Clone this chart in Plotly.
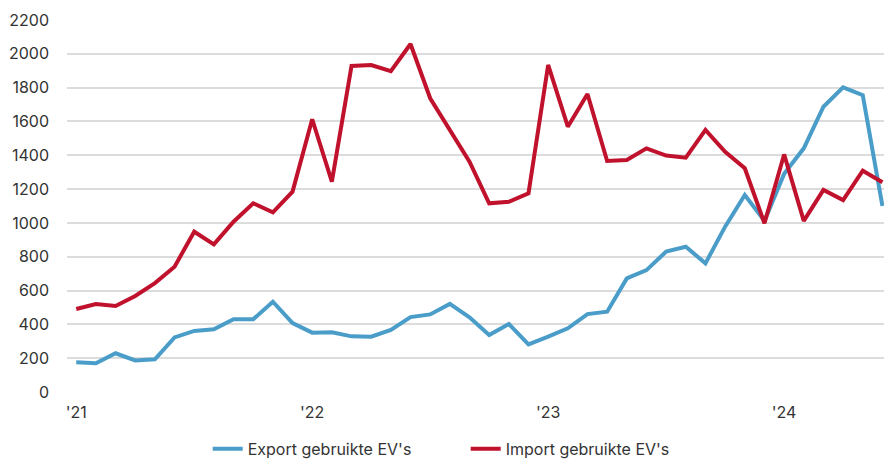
import plotly.graph_objects as go

# maanden jan 2021 t/m jun 2024
maanden = [
    "2021-01", "2021-02", "2021-03", "2021-04", "2021-05", "2021-06",
    "2021-07", "2021-08", "2021-09", "2021-10", "2021-11", "2021-12",
    "2022-01", "2022-02", "2022-03", "2022-04", "2022-05", "2022-06",
    "2022-07", "2022-08", "2022-09", "2022-10", "2022-11", "2022-12",
    "2023-01", "2023-02", "2023-03", "2023-04", "2023-05", "2023-06",
    "2023-07", "2023-08", "2023-09", "2023-10", "2023-11", "2023-12",
    "2024-01", "2024-02", "2024-03", "2024-04", "2024-05", "2024-06",
]

export_ev = [
    176, 170, 229, 187, 193, 323, 361, 371, 430, 430, 534, 408,
    351, 353, 329, 327, 367, 443, 459, 521, 442, 337, 402, 282,
    327, 377, 461, 475, 672, 721, 830, 859, 761, 978, 1165, 1012,
    1290, 1441, 1687, 1802, 1756, 1100,
]

import_ev = [
    491, 520, 509, 568, 644, 741, 948, 873, 1007, 1116, 1063, 1185,
    1613, 1244, 1928, 1934, 1898, 2058, 1737, 1550, 1362, 1116, 1125, 1175,
    1934, 1569, 1762, 1366, 1372, 1441, 1398, 1386, 1550, 1421, 1323, 998,
    1405, 1012, 1195, 1135, 1309, 1240,
]

jaar_ticks = ["2021-01", "2022-01", "2023-01", "2024-01"]
jaar_labels = ["'21", "'22", "'23", "'24"]

fig = go.Figure()
fig.add_trace(go.Scatter(x=maanden, y=export_ev, mode="lines", name="Export gebruikte EV's",
                         line=dict(color="#4a9dc9", width=4)))
fig.add_trace(go.Scatter(x=maanden, y=import_ev, mode="lines", name="Import gebruikte EV's",
                         line=dict(color="#c0122c", width=4)))

fig.update_xaxes(type="category", range=[-0.47, 41.08], tickvals=jaar_ticks, ticktext=jaar_labels,
                 showgrid=False, zeroline=False, showline=False, ticks="",
                 ticklabelstandoff=9, tickfont=dict(size=16, color="#333333"))
fig.update_yaxes(range=[0, 2200], dtick=200, showgrid=True, gridcolor="#dcdcdc", gridwidth=1.5,
                 zeroline=False, showline=False, ticks="", ticklabelstandoff=17,
                 tickfont=dict(size=16, color="#333333"))

fig.update_layout(
    width=884, height=459,
    margin=dict(l=67, r=0, t=20, b=67, autoexpand=False),
    plot_bgcolor="white", paper_bgcolor="white",
    font=dict(family="Inter, Open Sans, sans-serif", size=16, color="#333333"),
    showlegend=True,
    legend=dict(orientation="h", x=0.488, xanchor="center", yref="container", y=0.022, yanchor="middle",
                entrywidth=213, entrywidthmode="pixels",
                font=dict(size=16, color="#333333"), tracegroupgap=0),
)

# pagina-marge weg, anders schuift de grafiek 8px op
fig.write_html("out.html", config={"displayModeBar": False},
               post_script="document.body.style.margin='0';")
